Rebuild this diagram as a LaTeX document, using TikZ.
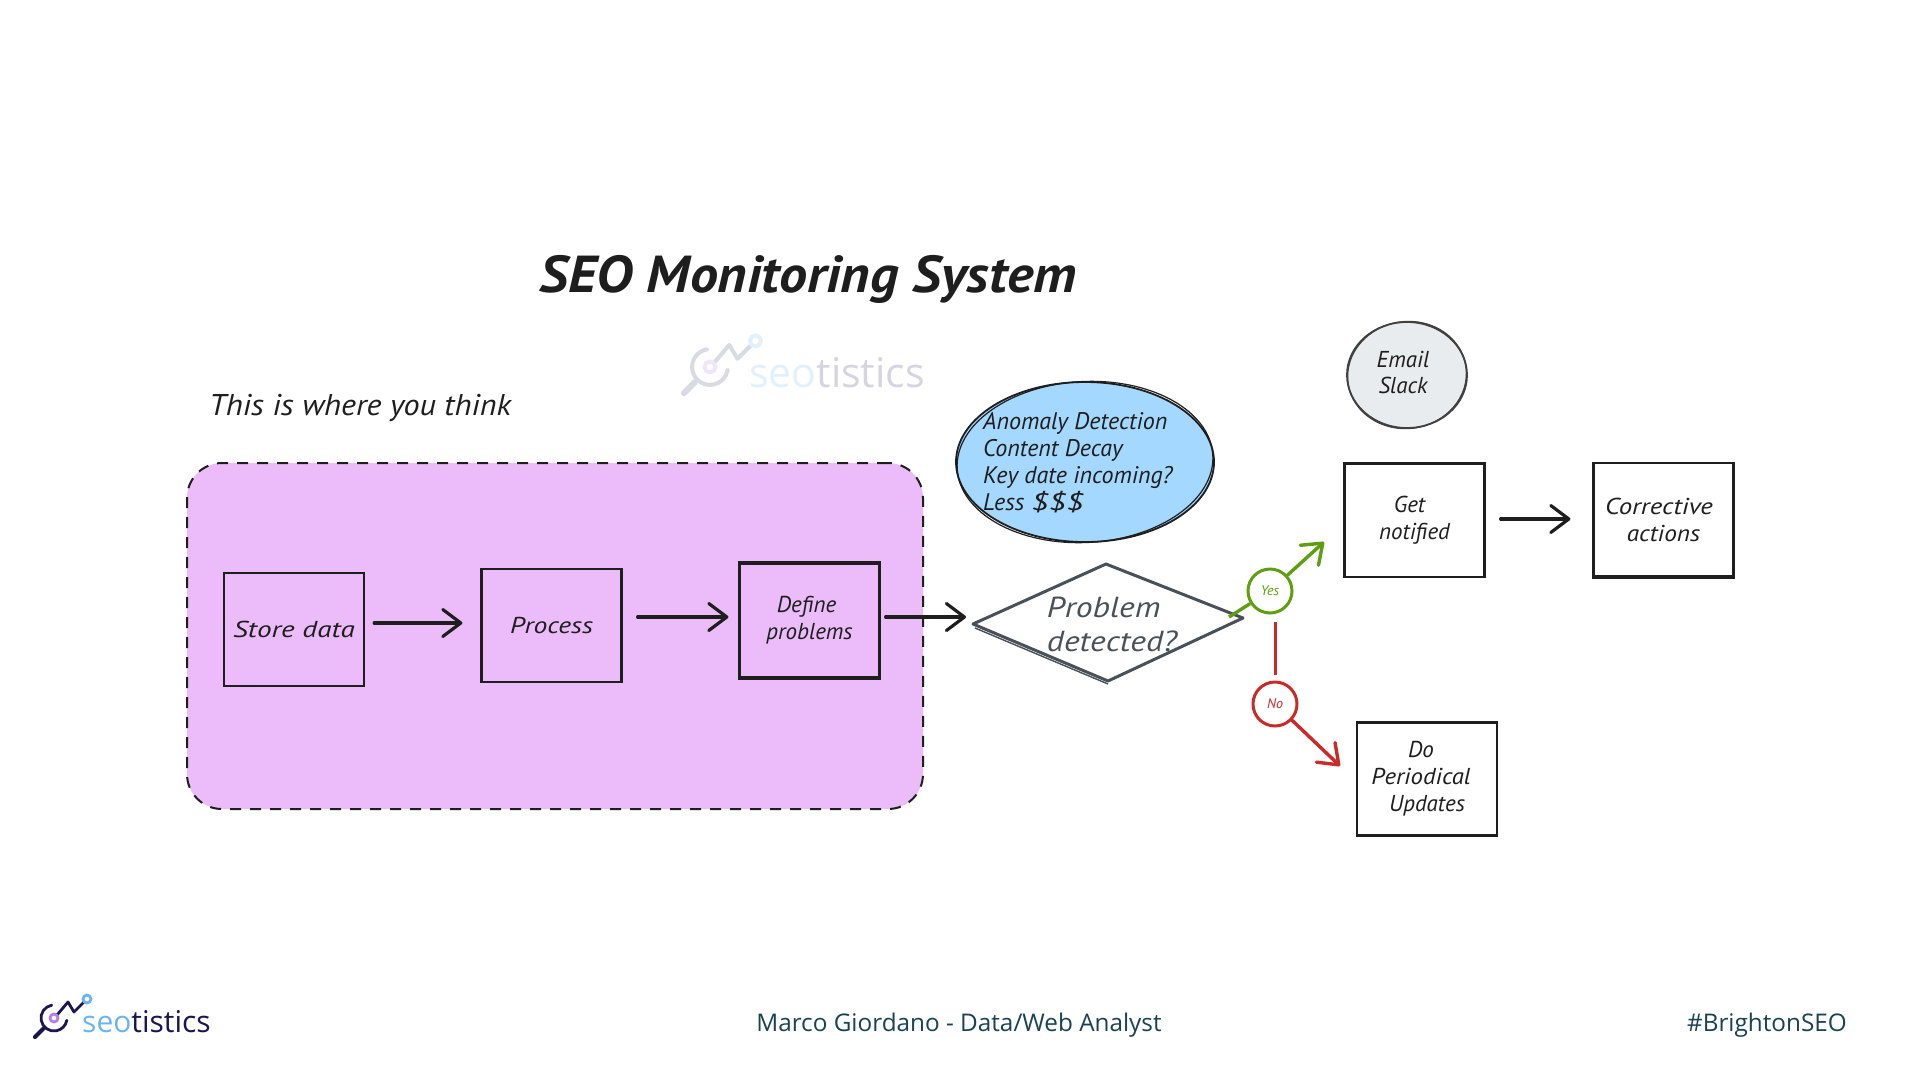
\documentclass[tikz,border=0pt]{standalone}
\usepackage{fontspec}
\usepackage{graphicx}
\usetikzlibrary{arrows.meta,calc}
\setmainfont{Open Sans}
\newfontfamily\handfam{PT Sans}
\newcommand{\hw}[2]{\handfam\itshape\fontsize{#1}{#2}\selectfont}
\newcommand{\wdn}[2]{\scalebox{#1}[1]{#2}}
\definecolor{inkc}{HTML}{1E1E1E}
\definecolor{purplefill}{HTML}{EBBCF9}
\definecolor{bluefill}{HTML}{A5D8FF}
\definecolor{greyfill}{HTML}{E9ECEF}
\definecolor{slatec}{HTML}{495057}
\definecolor{greenc}{HTML}{5F9E12}
\definecolor{redc}{HTML}{C92A2A}
\definecolor{footc}{HTML}{1A4250}
\definecolor{navyc}{HTML}{1A1650}
\definecolor{logoblue}{HTML}{6DB3EE}
\definecolor{logopurple}{HTML}{B47EEB}
\newcommand{\logomark}[7]{%
 \begin{scope}[shift={(#1,#2)},scale=#3,line width=#7,line cap=round,line join=round]
  \draw[#4] (-100:13) arc[start angle=-100,end angle=-350,radius=13];
  \draw[#4,line width=1.5*#7] (-19,19) -- (-11,11);
  \draw[#4] (3,-3) -- (14,-16) -- (20,-6) -- (30,-16);
  \draw[#5] (0,0) circle[radius=4];
  \draw[#6] (33,-19) circle[radius=4];
 \end{scope}}
\tikzset{
 sbox/.style={draw=inkc,line width=2.2pt,minimum width=140pt,minimum height=113pt,inner sep=0pt,align=center,font=\hw{23}{27},text=inkc},
 sarrow/.style={draw=inkc,line width=3.2pt,line cap=round,-{Straight Barb[length=18pt,width=27pt,round]}},
 garrow/.style={draw=greenc,line width=3.4pt,line cap=round,-{Straight Barb[length=18pt,width=27pt,round]}},
 rarrow/.style={draw=redc,line width=3.4pt,line cap=round,-{Straight Barb[length=18pt,width=27pt,round]}},
 tag/.style={circle,line width=3pt,minimum size=44pt,inner sep=0pt,font=\hw{14}{15}},
 handtext/.style={inner sep=0pt,text=inkc},
 foot/.style={inner sep=0pt,text=footc,font=\fontsize{24.3}{28}\selectfont},
}
\begin{document}
\begin{tikzpicture}[x=1pt,y=-1pt]
\useasboundingbox (0,0) rectangle (1920,1080);
\fill[white] (0,0) rectangle (1920,1080);

% watermark logo
\logomark{710}{367}{1.376}{draw=navyc!16}{draw=logopurple!20}{draw=logoblue!20}{4pt}
\node[anchor=base west,inner sep=0pt,font=\fontsize{41}{41}\selectfont] (wmtext) at (749,387) {\textcolor{logoblue!20}{seo}\textcolor{navyc!18}{tistics}};

% title and caption
\node[handtext,font=\hw{52}{55}\bfseries] (title) at (808,279) {\wdn{1.08}{SEO Monitoring System}};
\node[handtext,font=\hw{30}{32}] (think) at (360,408) {\wdn{1.07}{This is where you think}};

% region
\node[draw=inkc,fill=purplefill,line width=2pt,dash pattern=on 11pt off 9pt,rounded corners=35pt,minimum width=736pt,minimum height=346pt,inner sep=0pt] (region) at (555,636) {};

% boxes
\node[sbox] (store) at (294,629.5) {\wdn{1.27}{Store data}};
\node[sbox] (process) at (551.5,625.5) {\wdn{1.2}{Process}};
\node[sbox] (define) at (809.5,620.5) {Define\kern6pt\\problems};
\node[sbox] (notified) at (1414.5,520.5) {Get\kern10pt\\notified};
\node[sbox] (corrective) at (1663.5,519.5) {\wdn{1.17}{Corrective}\kern9pt\\\wdn{1.1}{actions}};
\node[sbox] (updates) at (1427,779) {Do\kern12pt\\\wdn{1.08}{Periodical}\kern12pt\\Updates};
\draw[inkc,line width=2pt] ([yshift=.8pt]define.north west) -- ([yshift=.8pt]define.north east);
\draw[inkc,line width=2pt] ([yshift=-.8pt]define.south west) -- ([yshift=-.8pt]define.south east);
\draw[inkc,line width=2pt] ([yshift=-.8pt]corrective.south west) -- ([yshift=-.8pt]corrective.south east);
\draw[inkc,line width=1.6pt] ([yshift=.6pt]notified.north west) -- ([yshift=.6pt]notified.north east);

% ellipses
\draw[fill=bluefill,draw=inkc,line width=1.8pt] (1085,462) ellipse[x radius=129,y radius=80];
\draw[inkc,line width=1.2pt,rotate around={3:(1085,462)}] (1085,462) ellipse[x radius=128,y radius=80.5];
\node[handtext,anchor=north west,align=left,font=\hw{24}{27}] (anomaly) at (983,412) {Anomaly Detection\\Content Decay\\Key date incoming?\\Less \wdn{1.4}{\$\$\$}};
\draw[fill=greyfill,draw=inkc!85,line width=1.8pt] (1407,375) ellipse[x radius=60,y radius=53];
\draw[inkc!85,line width=1.2pt,rotate around={8:(1407,375)}] (1407,375) ellipse[x radius=59.5,y radius=53.5];
\node[handtext,align=center,font=\hw{23}{26}] (channels) at (1403,372) {Email\\Slack};

% decision
\coordinate (dl) at (973,624);
\coordinate (dt) at (1106,564);
\coordinate (dr) at (1243,618);
\coordinate (db) at (1108,681);
\coordinate (gs) at (1229,617);
\coordinate (rs) at (1275,622);
\coordinate (gt) at (1324,542);
\coordinate (rt) at (1340,766);
\draw[slatec,line width=3pt,line join=round] (dl) -- (dt) -- (dr) -- (db) -- cycle;
\draw[slatec,line width=1.4pt] ($(dl)+(2,4)$) -- ($(db)+(0,3)$);
\node[handtext,text=slatec,align=left,font=\hw{29}{34}] (problem) at (1112,624) {\wdn{1.16}{Problem}\\\wdn{1.16}{detected?}};

% tags
\node[tag,draw=greenc,text=greenc] (yes) at (1270,591) {Yes};
\node[tag,draw=redc,text=redc] (no) at (1275,704) {No};

% connectors
\draw[sarrow] ([shift={(9pt,6.5pt)}]store.east) -- ([shift={(-18pt,2.5pt)}]process.west);
\draw[sarrow] ([shift={(15pt,8.5pt)}]process.east) -- ([shift={(-10pt,3.5pt)}]define.west);
\draw[sarrow] ([shift={(5pt,3.5pt)}]define.east) -- ([shift={(-7pt,7pt)}]dl);
\draw[sarrow] ([shift={(15pt,1.5pt)}]notified.east) -- ([shift={(-22pt,0.5pt)}]corrective.west);
\draw[draw=greenc,line width=3.4pt] (gs) -- (yes);
\draw[garrow] (yes) -- (gt);
\draw[draw=redc,line width=3pt] (rs) -- ([yshift=6pt]no.north);
\draw[rarrow] (no) -- (rt);

% footer
\logomark{54}{1018}{1}{draw=navyc}{draw=logopurple}{draw=logoblue}{2.8pt}
\node[anchor=base west,inner sep=0pt,font=\fontsize{30}{30}\selectfont] (brand) at (82,1032) {\textcolor{logoblue}{seo}\textcolor{navyc}{tistics}};
\node[foot] (author) at (959,1025) {Marco Giordano - Data/Web Analyst};
\node[foot,anchor=east] (tagname) at (1847,1025) {\#BrightonSEO};
\end{tikzpicture}
\end{document}
